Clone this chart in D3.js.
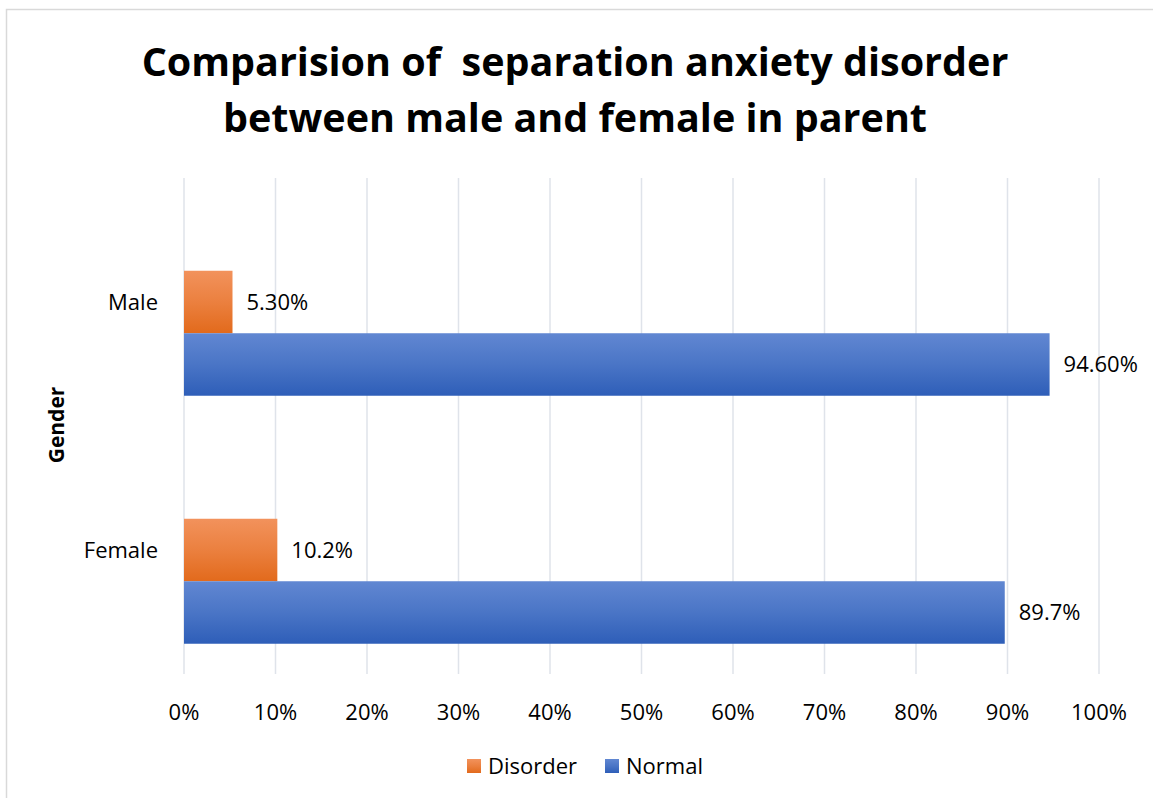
<!DOCTYPE html>
<html>
<head>
<meta charset="utf-8">
<script src="https://cdn.jsdelivr.net/npm/d3@7"></script>
<style>
  html, body { margin: 0; padding: 0; background: #fff; }
  svg { display: block; font-family: "Open Sans", "Noto Sans", sans-serif; }
  text { white-space: pre; }
</style>
</head>
<body>
<svg id="chart" width="1153" height="798"></svg>
<script>
// Categories, top to bottom
const categories = ["Male", "Female"];
// Series (the first cluster slot is left empty)
const seriesNames = ["", "Disorder", "Normal"];
const disorderValues = [5.3, 10.2];
const normalValues = [94.6, 89.7];
const disorderLabels = ["5.30%", "10.2%"];
const normalLabels = ["94.60%", "89.7%"];
const xTicks = [0, 10, 20, 30, 40, 50, 60, 70, 80, 90, 100];

const svg = d3.select("#chart");
const W = 1153, H = 798;
const margin = { left: 184, right: 54, top: 178, bottom: 124 };
const FS = 22;

// Outer chart frame
svg.append("rect")
  .attr("x", 6.5).attr("y", 9.5)
  .attr("width", W + 10).attr("height", H + 10)
  .attr("fill", "#fff").attr("stroke", "#d9d9d9").attr("stroke-width", 1.5);

// Gradients
const defs = svg.append("defs");
function grad(id, top, bottom) {
  const g = defs.append("linearGradient").attr("id", id)
    .attr("x1", 0).attr("y1", 0).attr("x2", 0).attr("y2", 1);
  g.append("stop").attr("offset", "0%").attr("stop-color", top);
  g.append("stop").attr("offset", "50%").attr("stop-color", d3.interpolateRgb(top, bottom)(0.45));
  g.append("stop").attr("offset", "100%").attr("stop-color", bottom);
}
grad("gOrange", "#F2925C", "#E26A1C");
grad("gBlue", "#6187D2", "#2E5EB8");
const fills = { "Disorder": "url(#gOrange)", "Normal": "url(#gBlue)" };

const x = d3.scaleLinear().domain([0, 100]).range([margin.left, W - margin.right]);
const y0 = d3.scaleBand().domain(categories)
  .range([margin.top, H - margin.bottom])
  .paddingInner(0.244).paddingOuter(0.122);
const y1 = d3.scaleBand().domain(seriesNames).range([0, y0.bandwidth()]);

// Title
const title = svg.append("text")
  .attr("text-anchor", "middle")
  .attr("font-weight", "bold")
  .attr("font-size", 39.5)
  .attr("fill", "#000");
title.append("tspan").attr("x", 575).attr("y", 76).text("Comparision of  separation anxiety disorder");
title.append("tspan").attr("x", 575).attr("y", 132).text("between male and female in parent");

// Vertical gridlines
const plotBottom = H - margin.bottom;
svg.append("g").selectAll("line").data(xTicks).join("line")
  .attr("x1", d => x(d)).attr("x2", d => x(d))
  .attr("y1", margin.top).attr("y2", plotBottom)
  .attr("stroke", "#dfe3ea").attr("stroke-width", 1.5);

// Bars
const rows = categories.map((c, i) => ({
  cat: c,
  items: [
    { s: "Disorder", v: disorderValues[i], label: disorderLabels[i] },
    { s: "Normal", v: normalValues[i], label: normalLabels[i] }
  ]
}));

const groups = svg.append("g").selectAll("g").data(rows).join("g")
  .attr("transform", d => `translate(0,${y0(d.cat)})`);

groups.selectAll("rect").data(d => d.items).join("rect")
  .attr("x", x(0))
  .attr("y", d => y1(d.s))
  .attr("width", d => x(d.v) - x(0))
  .attr("height", y1.bandwidth())
  .attr("fill", d => fills[d.s]);

groups.selectAll("text").data(d => d.items).join("text")
  .attr("x", d => x(d.v) + 14)
  .attr("y", d => y1(d.s) + y1.bandwidth() / 2)
  .attr("dy", "0.35em")
  .attr("font-size", FS)
  .attr("fill", "#000")
  .text(d => d.label);

// Category labels
svg.append("g").selectAll("text").data(categories).join("text")
  .attr("x", margin.left - 26)
  .attr("y", d => y0(d) + y0.bandwidth() / 2)
  .attr("dy", "0.35em")
  .attr("text-anchor", "end")
  .attr("font-size", FS)
  .attr("fill", "#000")
  .text(d => d);

// X axis tick labels
svg.append("g").selectAll("text").data(xTicks).join("text")
  .attr("x", d => x(d))
  .attr("y", 712)
  .attr("dy", "0.35em")
  .attr("text-anchor", "middle")
  .attr("font-size", FS)
  .attr("fill", "#000")
  .text(d => d + "%");

// Y axis title
svg.append("text")
  .attr("transform", "translate(57,425) rotate(-90)")
  .attr("text-anchor", "middle")
  .attr("dy", "0.35em")
  .attr("font-weight", "bold")
  .attr("font-size", 21)
  .text("Gender");

// Legend
const legendItems = [
  { s: "Disorder", x: 467 },
  { s: "Normal", x: 605 }
];
const lg = svg.append("g").selectAll("g").data(legendItems).join("g")
  .attr("transform", d => `translate(${d.x},766)`);
lg.append("rect").attr("x", 0).attr("y", -7).attr("width", 14).attr("height", 14)
  .attr("fill", d => fills[d.s]);
lg.append("text").attr("x", 21).attr("dy", "0.35em")
  .attr("font-size", FS).attr("fill", "#000").text(d => d.s);
</script>
</body>
</html>
